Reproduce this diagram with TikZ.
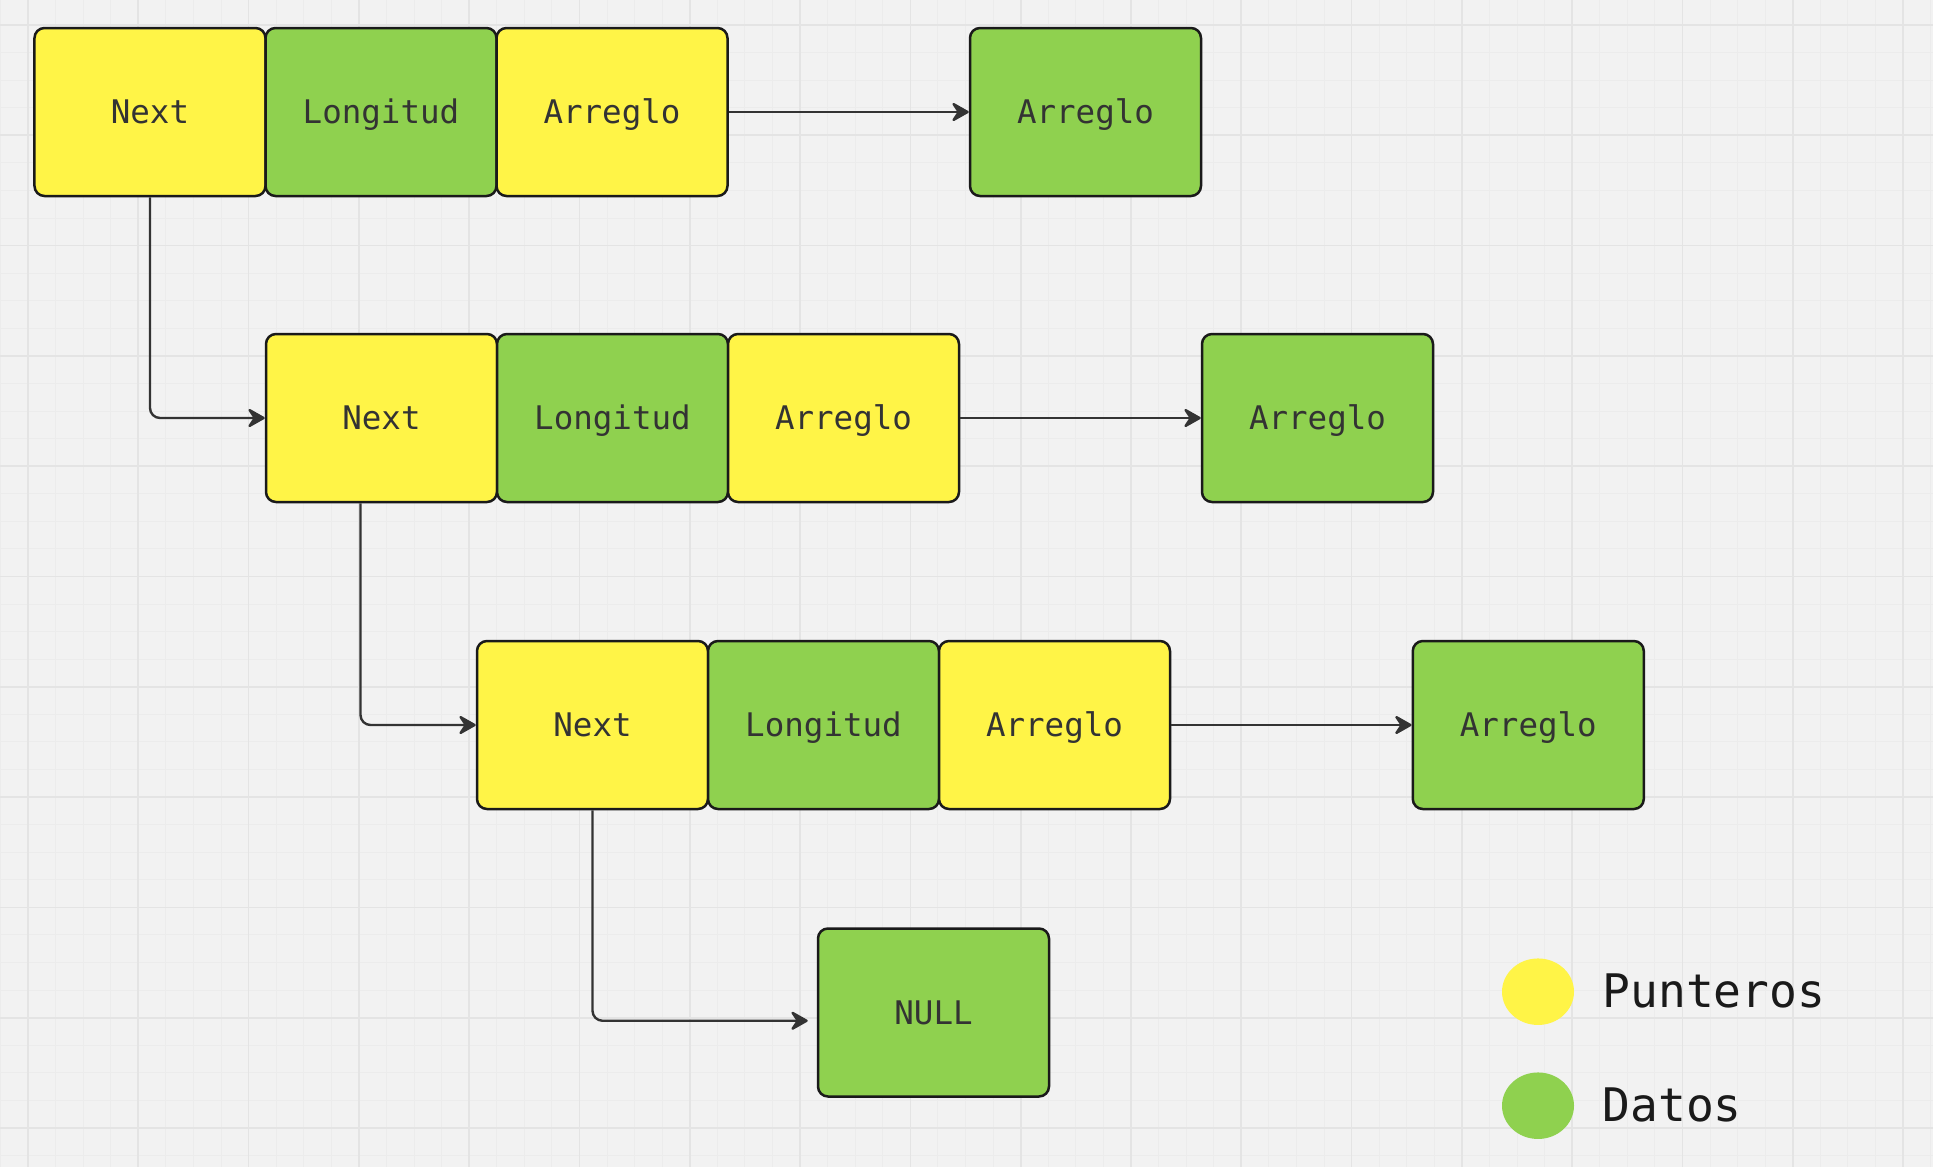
\documentclass[tikz,border=0pt]{standalone}
\usepackage{fontspec}
\setmonofont{DejaVu Sans Mono}
\usetikzlibrary{arrows.meta,shapes.geometric}
\definecolor{bg}{HTML}{F2F2F2}
\definecolor{gmajor}{HTML}{E4E4E4}
\definecolor{gminor}{HTML}{ECECEC}
\definecolor{ptr}{HTML}{FFF447}
\definecolor{dat}{HTML}{8FD14F}
\definecolor{ink}{HTML}{1A1A1A}
\definecolor{txt}{HTML}{333333}
\tikzset{
  cell/.style={draw=ink, line width=1pt, rounded corners=4pt,
    minimum width=92.4pt, minimum height=67.2pt, inner sep=0pt,
    text height=9.5pt, text depth=0pt,
    font=\ttfamily\fontsize{13}{15}\selectfont, text=txt},
  ptrcell/.style={cell, fill=ptr},
  datcell/.style={cell, fill=dat},
  link/.style={draw=txt, line width=0.95pt, rounded corners=4pt,
    -{Stealth[length=8pt,width=9pt,inset=3pt,round]}},
  legdot/.style={ellipse, inner sep=0pt, minimum width=28.8pt, minimum height=26.6pt},
  legtext/.style={anchor=base west, inner sep=0pt, text=ink,
    font=\ttfamily\fontsize{18.5}{22}\selectfont},
}
\begin{document}
\begin{tikzpicture}[x=0.4pt, y=-0.4pt]
\useasboundingbox (0,0) rectangle (1933,1167);
\fill[bg] (0,0) rectangle (1933,1167);
% grid
\foreach \i in {0,...,70} \draw[gminor, line width=0.4pt] (0.4+\i*27.575,0) -- (0.4+\i*27.575,1167);
\foreach \j in {0,...,41} \draw[gminor, line width=0.4pt] (0,25+\j*27.575) -- (1933,25+\j*27.575);
\foreach \k in {0,...,17} \draw[gmajor, line width=0.7pt] (28+\k*110.3,0) -- (28+\k*110.3,1167);
\foreach \k in {0,...,10} \draw[gmajor, line width=0.7pt] (0,25+\k*110.3) -- (1933,25+\k*110.3);

% row 1
\node[ptrcell] (n1) at (150,112) {Next};
\node[datcell] (l1) at (381,112) {Longitud};
\node[ptrcell] (a1) at (612,112) {Arreglo};
\node[datcell] (b1) at (1085.5,112) {Arreglo};
% row 2
\node[ptrcell] (n2) at (381.5,418) {Next};
\node[datcell] (l2) at (612.5,418) {Longitud};
\node[ptrcell] (a2) at (843.5,418) {Arreglo};
\node[datcell] (b2) at (1317.5,418) {Arreglo};
% row 3
\node[ptrcell] (n3) at (592.5,725) {Next};
\node[datcell] (l3) at (823.5,725) {Longitud};
\node[ptrcell] (a3) at (1054.5,725) {Arreglo};
\node[datcell] (b3) at (1528.3,725) {Arreglo};
% null
\node[datcell] (nul) at (933.5,1012.5) {NULL};

% connectors
\draw[link] (a1.east) -- (b1.west);
\draw[link] (a2.east) -- (b2.west);
\draw[link] (a3.east) -- (b3.west);
\draw[link] (n1.south) |- (n2.west);
\draw[link] ([xshift=-8.4pt]n2.south) |- (n3.west);
\draw[link] (n3.south) |- ([xshift=-3.6pt,yshift=-3.3pt]nul.west);

% legend
\node[legdot, fill=ptr] (lp) at (1538,991.7) {};
\node[legdot, fill=dat] (ld) at (1538,1105.7) {};
\node[legtext] (tp) at (1602,1007) {Punteros};
\node[legtext] (td) at (1602,1121) {Datos};
\end{tikzpicture}
\end{document}
